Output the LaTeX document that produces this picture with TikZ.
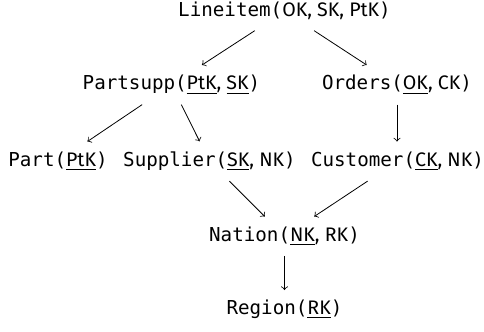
\documentclass[tikz,border=0pt]{standalone}
\usepackage{fontspec}
\setmonofont{DejaVu Sans Mono}
\newfontfamily\attrfont[Scale=1.02]{Fira Sans}
\newcommand{\at}[1]{{\attrfont #1}}
\newcommand{\ky}[1]{\underline{#1}}
\begin{document}
\begin{tikzpicture}[x=0.5pt,y=-0.5pt,
  rel/.style={anchor=base,inner xsep=1pt,inner ysep=5pt,font=\fontsize{9.6}{11}\selectfont\ttfamily},
  arr/.style={->,line width=0.4pt}]
\useasboundingbox (0,0) rectangle (484,332);
\node[rel] (li) at (284.5,17) {Lineitem(\at{OK, SK, PtK})};
\node[rel] (ps) at (171.5,90) {Partsupp(\at{\ky{PtK}, \ky{SK}})};
\node[rel] (or) at (397,90) {Orders(\at{\ky{OK}, CK})};
\node[rel] (pa) at (58,166.5) {Part(\at{\ky{PtK}})};
\node[rel] (su) at (209.5,166.5) {Supplier(\at{\ky{SK}, NK})};
\node[rel] (cu) at (397.5,166.5) {Customer(\at{\ky{CK}, NK})};
\node[rel] (na) at (284.5,241.5) {Nation(\at{\ky{NK}, RK})};
\node[rel] (re) at (284.5,315) {Region(\at{\ky{RK}})};
\draw[arr] (li) -- (ps);
\draw[arr] (li) -- (or);
\draw[arr] (ps) -- (pa);
\draw[arr] (ps) -- (su);
\draw[arr] (or.south) -- (or.south |- cu.north);
\draw[arr] (su) -- (na);
\draw[arr] (cu) -- (na);
\draw[arr] (na) -- (re);
\end{tikzpicture}
\end{document}
